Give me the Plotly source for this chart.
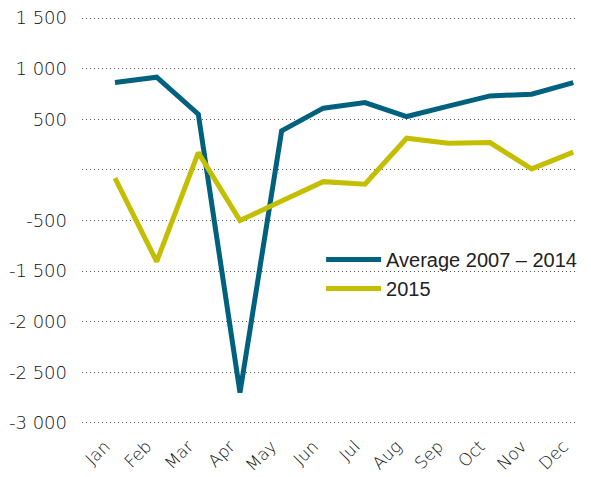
import plotly.graph_objects as go

months = ["Jan", "Feb", "Mar", "Apr", "May", "Jun", "Jul", "Aug", "Sep", "Oct", "Nov", "Dec"]
avg_2007_2014 = [863, 916, 550, -2201, 385, 610, 665, 527, 630, 731, 748, 863]
y2015 = [-82, -906, 171, -501, -308, -116, -141, 313, 264, 270, 10, 175]

tick_vals = [1500, 1000, 500, 0, -500, -1000, -1500, -2000, -2500]
tick_text = ["1 500", "1 000", "500", "", "-500", "-1 500", "-2 000", "-2 500", "-3 000"]

BLUE = "#00617f"
YELLOW = "#c4be00"

fig = go.Figure()
fig.add_trace(go.Scatter(x=months, y=avg_2007_2014, mode="lines", name="Average 2007 – 2014",
                         line=dict(color=BLUE, width=5)))
fig.add_trace(go.Scatter(x=months, y=y2015, mode="lines", name="2015",
                         line=dict(color=YELLOW, width=5)))

font_family = "Liberation Sans, Arial, sans-serif"
tick_family = "DejaVu Sans, Liberation Sans, sans-serif"
TICK_COLOR = "#111111"

fig.update_layout(
    width=591, height=477,
    margin=dict(l=82, r=14, t=12, b=48, autoexpand=False),
    paper_bgcolor="white", plot_bgcolor="white",
    font=dict(family=font_family, color="#555555"),
    showlegend=True,
    legend=dict(x=0.483, y=0.453, xanchor="left", yanchor="top",
                font=dict(size=20, color="#222222", family=font_family),
                bgcolor="rgba(0,0,0,0)", tracegroupgap=0, itemwidth=55),
    xaxis=dict(
        type="category", range=[-0.792, 11.089], automargin=False,
        showgrid=False, zeroline=False, showline=False,
        tickangle=-45, tickfont=dict(size=17, color=TICK_COLOR, family=tick_family, weight=200),
        ticks="", ticklabelstandoff=3, ticklabelshift=-10,
    ),
    yaxis=dict(
        range=[-2560, 1560], tickmode="array", tickvals=tick_vals, ticktext=tick_text,
        automargin=False,
        showgrid=True, gridcolor="#555555", griddash="1px,3px", gridwidth=1,
        zeroline=False, showline=False, ticks="",
        tickfont=dict(size=18, color=TICK_COLOR, family=tick_family, weight=200),
        ticklabelstandoff=14,
    ),
)

fig.write_html("out.html", config={"displayModeBar": False},
               post_script="document.body.style.margin='0';")
